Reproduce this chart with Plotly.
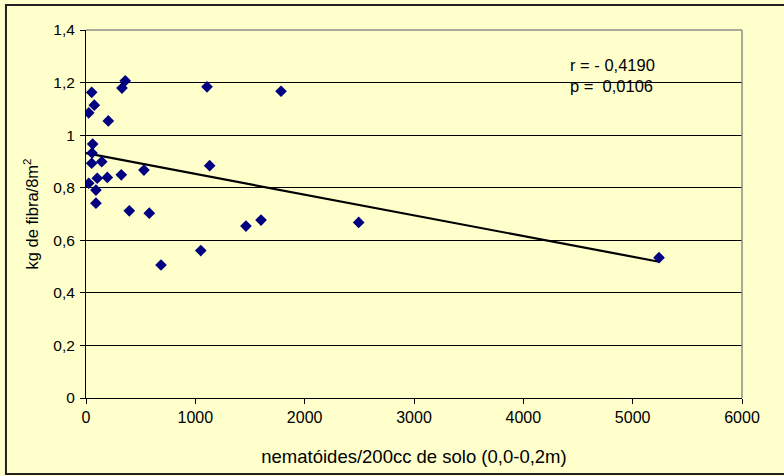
import numpy as np
import plotly.graph_objects as go

# data
nematoides = [52, 76, 25, 204, 61, 55, 52, 144, 103, 25, 91, 91, 195, 323,
              359, 329, 530, 1131, 1107, 396, 579, 686, 1050, 1601, 1463,
              1784, 2494, 5241]
kg_fibra = [1.163, 1.114, 1.085, 1.054, 0.966, 0.932, 0.893, 0.899, 0.836,
            0.817, 0.791, 0.741, 0.839, 0.849, 1.207, 1.179, 0.867, 0.884,
            1.184, 0.712, 0.703, 0.506, 0.561, 0.677, 0.654, 1.167, 0.668,
            0.534]

x_ticks = [0, 1000, 2000, 3000, 4000, 5000, 6000]
x_tick_labels = ["0", "1000", "2000", "3000", "4000", "5000", "6000"]
y_ticks = [0, 0.2, 0.4, 0.6, 0.8, 1.0, 1.2, 1.4]
y_tick_labels = ["0", "0,2", "0,4", "0,6", "0,8", "1", "1,2", "1,4"]

stats_text = "r = - 0,4190<br>p =  0,0106"

# linear trend computed from the data
slope, intercept = np.polyfit(nematoides, kg_fibra, 1)
trend_x = [0, max(nematoides)]
trend_y = [intercept + slope * v for v in trend_x]

BG = "#FFFFCC"
FONT = "Liberation Sans, Arial, sans-serif"

fig = go.Figure()
fig.add_trace(go.Scatter(x=trend_x, y=trend_y, mode="lines",
                         line=dict(color="black", width=2.2),
                         hoverinfo="skip", showlegend=False))
fig.add_trace(go.Scatter(x=nematoides, y=kg_fibra, mode="markers",
                         marker=dict(symbol="diamond", size=9, color="#000080",
                                     line=dict(width=0)),
                         showlegend=False))

fig.update_layout(
    width=784, height=476,
    margin=dict(l=86, r=42, t=30, b=78),
    paper_bgcolor=BG, plot_bgcolor=BG,
    font=dict(family=FONT, size=16, color="black"),
    showlegend=False,
    xaxis=dict(range=[0, 6000], tickvals=x_ticks, ticktext=x_tick_labels,
               showgrid=False, zeroline=False, automargin=False,
               showline=True, linecolor="black", linewidth=1,
               ticks="outside", ticklen=5, tickcolor="black",
               tickfont=dict(size=16),
               title=dict(text="nematóides/200cc de solo (0,0-0,2m)",
                          font=dict(size=18.5), standoff=24)),
    yaxis=dict(range=[0, 1.4], tickvals=y_ticks, ticktext=y_tick_labels,
               showgrid=True, gridcolor="black", gridwidth=1,
               zeroline=False, automargin=False,
               showline=True, linecolor="black", linewidth=1,
               ticks="outside", ticklen=5, tickcolor="black",
               ticklabelstandoff=2,
               tickfont=dict(size=15.5),
               title=dict(text="kg de fibra/8m<sup>2</sup>",
                          font=dict(size=16.5), standoff=10)),
    annotations=[dict(text=stats_text, x=0.735, y=0.935, xref="paper",
                      yref="paper", xanchor="left", yanchor="top",
                      align="left", showarrow=False,
                      font=dict(size=16.5, family=FONT))],
    shapes=[
        # gray top / right border of plot area
        dict(type="line", xref="paper", yref="paper", x0=0, x1=1, y0=1, y1=1,
             line=dict(color="#8c8c8c", width=1.5)),
        dict(type="line", xref="paper", yref="paper", x0=1, x1=1, y0=0, y1=1,
             line=dict(color="#8c8c8c", width=1.5)),
        # outer chart frame
        dict(type="rect", xref="paper", yref="paper",
             x0=-0.122, x1=1.07, y0=-0.2065, y1=1.068,
             line=dict(color="#222222", width=2)),
    ],
)

fig.write_html("out.html", config={"displayModeBar": False},
               post_script="document.body.style.margin='0';")
